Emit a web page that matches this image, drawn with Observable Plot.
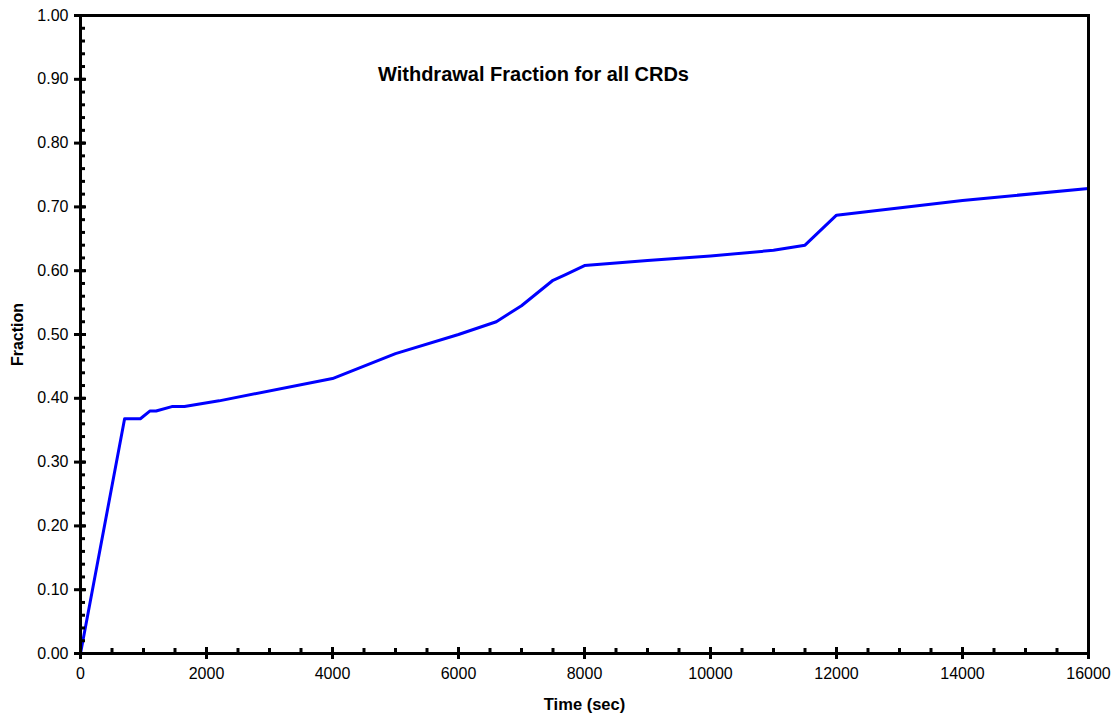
<!DOCTYPE html>
<html>
<head>
<meta charset="utf-8">
<script src="https://cdn.jsdelivr.net/npm/d3@7"></script>
<script src="https://cdn.jsdelivr.net/npm/@observablehq/plot@0.6"></script>
<style>
  html, body { margin: 0; padding: 0; background: #fff; }
  #chart { width: 1114px; height: 713px; }
</style>
</head>
<body>
<div id="chart"></div>
<script>
const titleText = "Withdrawal Fraction for all CRDs";
const xLabel = "Time (sec)";
const yLabel = "Fraction";

const timeSec = [0, 700, 950, 1100, 1200, 1450, 1650, 2200, 4000, 5000, 6000, 6600, 7000, 7500, 7700, 8000, 9000, 10000, 11000, 11500, 12000, 14000, 16000];
const fraction = [0.0, 0.368, 0.368, 0.380, 0.380, 0.387, 0.387, 0.396, 0.431, 0.470, 0.500, 0.520, 0.545, 0.585, 0.594, 0.608, 0.616, 0.623, 0.632, 0.640, 0.687, 0.710, 0.729];

const xMajorTicks = [0, 2000, 4000, 6000, 8000, 10000, 12000, 14000, 16000];
const xMinorTicks = d3.range(0, 16001, 500);
const yMajorTicks = [0, 0.1, 0.2, 0.3, 0.4, 0.5, 0.6, 0.7, 0.8, 0.9, 1.0];
const yMinorTicks = d3.range(0, 51).map(i => i * 0.02);

const data = timeSec.map((t, i) => ({t, f: fraction[i]}));

const font = "'Liberation Sans', Arial, sans-serif";

const chart = Plot.plot({
  width: 1114,
  height: 713,
  marginLeft: 80,
  marginRight: 26,
  marginTop: 15,
  marginBottom: 60,
  style: {fontFamily: font, color: "#000", background: "#fff"},
  x: {domain: [0, 16000]},
  y: {domain: [0, 1]},
  marks: [
    Plot.line(data, {x: "t", y: "f", stroke: "#0000ff", strokeWidth: 3}),
    Plot.frame({stroke: "#000", strokeWidth: 3}),
    // y axis: labels + outward major ticks
    Plot.axisY(yMajorTicks, {tickSize: 6, tickPadding: 6, tickFormat: d3.format(".2f"), fontSize: 16, strokeWidth: 3, label: null}),
    Plot.axisY(yMajorTicks, {tickSize: -6, tickFormat: () => "", strokeWidth: 3, label: null}),
    Plot.axisY(yMinorTicks, {tickSize: -5, tickFormat: () => "", strokeWidth: 3, label: null}),
    // x axis
    Plot.axisX(xMajorTicks, {tickSize: 6, tickPadding: 8, tickFormat: d => String(d), fontSize: 16, strokeWidth: 3, label: null}),
    Plot.axisX(xMajorTicks, {tickSize: -6, tickFormat: () => "", strokeWidth: 3, label: null}),
    Plot.axisX(xMinorTicks, {tickSize: -5, tickFormat: () => "", strokeWidth: 3, label: null}),
    // title and axis labels
    Plot.text([titleText], {frameAnchor: "top", dx: -51, dy: 59, fontSize: 20, fontWeight: "bold", fill: "#000", lineAnchor: "middle"}),
    Plot.text([xLabel], {frameAnchor: "bottom", dy: 51, fontSize: 16.5, fontWeight: "bold", fill: "#000", lineAnchor: "middle"}),
    Plot.text([yLabel], {frameAnchor: "left", dx: -63, rotate: -90, textAnchor: "middle", fontSize: 16, fontWeight: "bold", fill: "#000", lineAnchor: "middle"})
  ]
});
document.getElementById("chart").appendChild(chart);
</script>
</body>
</html>
